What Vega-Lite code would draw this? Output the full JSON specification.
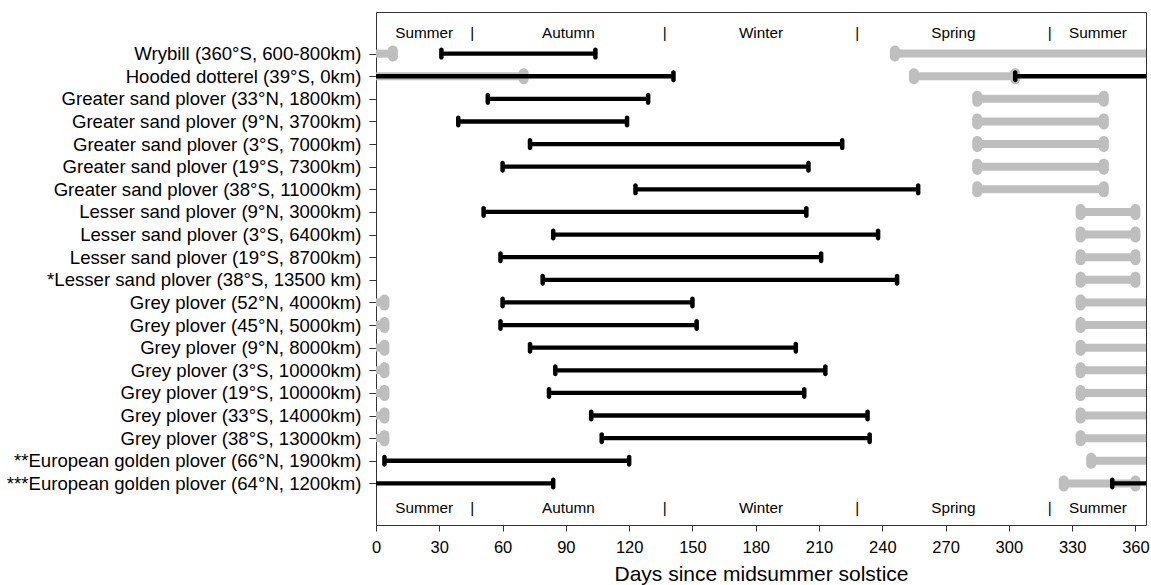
{
  "$schema": "https://vega.github.io/schema/vega-lite/v6.json",
  "width": 770,
  "height": 513,
  "autosize": {"type": "none"},
  "padding": {"left": 376, "top": 12, "right": 5, "bottom": 60},
  "config": {
    "font": "Liberation Sans",
    "view": {"stroke": "#333333", "strokeWidth": 1}
  },
  "datasets": {
    "bars": [
      {"row": "Wrybill (360°S, 600-800km)", "period": "non-breeding", "start": 31, "end": 104},
      {"row": "Wrybill (360°S, 600-800km)", "period": "breeding", "start": 0, "end": 8},
      {"row": "Wrybill (360°S, 600-800km)", "period": "breeding", "start": 246, "end": 365},
      {"row": "Hooded dotterel (39°S, 0km)", "period": "non-breeding", "start": 0, "end": 141},
      {"row": "Hooded dotterel (39°S, 0km)", "period": "breeding", "start": 0, "end": 70},
      {"row": "Hooded dotterel (39°S, 0km)", "period": "breeding", "start": 255, "end": 303},
      {"row": "Hooded dotterel (39°S, 0km)", "period": "non-breeding", "start": 303, "end": 365},
      {"row": "Greater sand plover (33°N, 1800km)", "period": "non-breeding", "start": 53, "end": 129},
      {"row": "Greater sand plover (33°N, 1800km)", "period": "breeding", "start": 285, "end": 345},
      {"row": "Greater sand plover (9°N, 3700km)", "period": "non-breeding", "start": 39, "end": 119},
      {"row": "Greater sand plover (9°N, 3700km)", "period": "breeding", "start": 285, "end": 345},
      {"row": "Greater sand plover (3°S, 7000km)", "period": "non-breeding", "start": 73, "end": 221},
      {"row": "Greater sand plover (3°S, 7000km)", "period": "breeding", "start": 285, "end": 345},
      {"row": "Greater sand plover (19°S, 7300km)", "period": "non-breeding", "start": 60, "end": 205},
      {"row": "Greater sand plover (19°S, 7300km)", "period": "breeding", "start": 285, "end": 345},
      {"row": "Greater sand plover (38°S, 11000km)", "period": "non-breeding", "start": 123, "end": 257},
      {"row": "Greater sand plover (38°S, 11000km)", "period": "breeding", "start": 285, "end": 345},
      {"row": "Lesser sand plover (9°N, 3000km)", "period": "non-breeding", "start": 51, "end": 204},
      {"row": "Lesser sand plover (9°N, 3000km)", "period": "breeding", "start": 334, "end": 360},
      {"row": "Lesser sand plover (3°S, 6400km)", "period": "non-breeding", "start": 84, "end": 238},
      {"row": "Lesser sand plover (3°S, 6400km)", "period": "breeding", "start": 334, "end": 360},
      {"row": "Lesser sand plover (19°S, 8700km)", "period": "non-breeding", "start": 59, "end": 211},
      {"row": "Lesser sand plover (19°S, 8700km)", "period": "breeding", "start": 334, "end": 360},
      {"row": "*Lesser sand plover (38°S, 13500 km)", "period": "non-breeding", "start": 79, "end": 247},
      {"row": "*Lesser sand plover (38°S, 13500 km)", "period": "breeding", "start": 334, "end": 360},
      {"row": "Grey plover (52°N, 4000km)", "period": "non-breeding", "start": 60, "end": 150},
      {"row": "Grey plover (52°N, 4000km)", "period": "breeding", "start": 0, "end": 4},
      {"row": "Grey plover (52°N, 4000km)", "period": "breeding", "start": 334, "end": 365},
      {"row": "Grey plover (45°N, 5000km)", "period": "non-breeding", "start": 59, "end": 152},
      {"row": "Grey plover (45°N, 5000km)", "period": "breeding", "start": 0, "end": 4},
      {"row": "Grey plover (45°N, 5000km)", "period": "breeding", "start": 334, "end": 365},
      {"row": "Grey plover (9°N, 8000km)", "period": "non-breeding", "start": 73, "end": 199},
      {"row": "Grey plover (9°N, 8000km)", "period": "breeding", "start": 0, "end": 4},
      {"row": "Grey plover (9°N, 8000km)", "period": "breeding", "start": 334, "end": 365},
      {"row": "Grey plover (3°S, 10000km)", "period": "non-breeding", "start": 85, "end": 213},
      {"row": "Grey plover (3°S, 10000km)", "period": "breeding", "start": 0, "end": 4},
      {"row": "Grey plover (3°S, 10000km)", "period": "breeding", "start": 334, "end": 365},
      {"row": "Grey plover (19°S, 10000km)", "period": "non-breeding", "start": 82, "end": 203},
      {"row": "Grey plover (19°S, 10000km)", "period": "breeding", "start": 0, "end": 4},
      {"row": "Grey plover (19°S, 10000km)", "period": "breeding", "start": 334, "end": 365},
      {"row": "Grey plover (33°S, 14000km)", "period": "non-breeding", "start": 102, "end": 233},
      {"row": "Grey plover (33°S, 14000km)", "period": "breeding", "start": 0, "end": 4},
      {"row": "Grey plover (33°S, 14000km)", "period": "breeding", "start": 334, "end": 365},
      {"row": "Grey plover (38°S, 13000km)", "period": "non-breeding", "start": 107, "end": 234},
      {"row": "Grey plover (38°S, 13000km)", "period": "breeding", "start": 0, "end": 4},
      {"row": "Grey plover (38°S, 13000km)", "period": "breeding", "start": 334, "end": 365},
      {"row": "**European golden plover (66°N, 1900km)", "period": "non-breeding", "start": 4, "end": 120},
      {"row": "**European golden plover (66°N, 1900km)", "period": "breeding", "start": 339, "end": 365},
      {"row": "***European golden plover (64°N, 1200km)", "period": "non-breeding", "start": 0, "end": 84},
      {"row": "***European golden plover (64°N, 1200km)", "period": "breeding", "start": 326, "end": 360},
      {"row": "***European golden plover (64°N, 1200km)", "period": "non-breeding", "start": 349, "end": 365}
    ],
    "seasons": [
      {"row": "seasonTop", "day": 22.8, "label": "Summer"},
      {"row": "seasonTop", "day": 45.6, "label": "|"},
      {"row": "seasonTop", "day": 91.2, "label": "Autumn"},
      {"row": "seasonTop", "day": 136.9, "label": "|"},
      {"row": "seasonTop", "day": 182.5, "label": "Winter"},
      {"row": "seasonTop", "day": 228.1, "label": "|"},
      {"row": "seasonTop", "day": 273.7, "label": "Spring"},
      {"row": "seasonTop", "day": 319.4, "label": "|"},
      {"row": "seasonTop", "day": 342.2, "label": "Summer"},
      {"row": "seasonBottom", "day": 22.8, "label": "Summer"},
      {"row": "seasonBottom", "day": 45.6, "label": "|"},
      {"row": "seasonBottom", "day": 91.2, "label": "Autumn"},
      {"row": "seasonBottom", "day": 136.9, "label": "|"},
      {"row": "seasonBottom", "day": 182.5, "label": "Winter"},
      {"row": "seasonBottom", "day": 228.1, "label": "|"},
      {"row": "seasonBottom", "day": 273.7, "label": "Spring"},
      {"row": "seasonBottom", "day": 319.4, "label": "|"},
      {"row": "seasonBottom", "day": 342.2, "label": "Summer"}
    ]
  },
  "encoding": {
    "y": {
      "field": "row",
      "type": "nominal",
      "scale": {
        "type": "point",
        "padding": 0.84,
        "domain": [
          "seasonTop",
          "Wrybill (360°S, 600-800km)",
          "Hooded dotterel (39°S, 0km)",
          "Greater sand plover (33°N, 1800km)",
          "Greater sand plover (9°N, 3700km)",
          "Greater sand plover (3°S, 7000km)",
          "Greater sand plover (19°S, 7300km)",
          "Greater sand plover (38°S, 11000km)",
          "Lesser sand plover (9°N, 3000km)",
          "Lesser sand plover (3°S, 6400km)",
          "Lesser sand plover (19°S, 8700km)",
          "*Lesser sand plover (38°S, 13500 km)",
          "Grey plover (52°N, 4000km)",
          "Grey plover (45°N, 5000km)",
          "Grey plover (9°N, 8000km)",
          "Grey plover (3°S, 10000km)",
          "Grey plover (19°S, 10000km)",
          "Grey plover (33°S, 14000km)",
          "Grey plover (38°S, 13000km)",
          "**European golden plover (66°N, 1900km)",
          "***European golden plover (64°N, 1200km)",
          "seasonBottom"
        ]
      },
      "axis": {
        "title": null,
        "domain": false,
        "grid": false,
        "values": [
          "Wrybill (360°S, 600-800km)",
          "Hooded dotterel (39°S, 0km)",
          "Greater sand plover (33°N, 1800km)",
          "Greater sand plover (9°N, 3700km)",
          "Greater sand plover (3°S, 7000km)",
          "Greater sand plover (19°S, 7300km)",
          "Greater sand plover (38°S, 11000km)",
          "Lesser sand plover (9°N, 3000km)",
          "Lesser sand plover (3°S, 6400km)",
          "Lesser sand plover (19°S, 8700km)",
          "*Lesser sand plover (38°S, 13500 km)",
          "Grey plover (52°N, 4000km)",
          "Grey plover (45°N, 5000km)",
          "Grey plover (9°N, 8000km)",
          "Grey plover (3°S, 10000km)",
          "Grey plover (19°S, 10000km)",
          "Grey plover (33°S, 14000km)",
          "Grey plover (38°S, 13000km)",
          "**European golden plover (66°N, 1900km)",
          "***European golden plover (64°N, 1200km)"
        ],
        "labelFontSize": 18.6,
        "labelColor": "#000000",
        "labelLimit": 400,
        "labelPadding": 8,
        "tickSize": 7,
        "tickColor": "#333333"
      }
    }
  },
  "layer": [
    {
      "data": {"name": "bars"},
      "transform": [{"filter": "datum.period === 'breeding'"}],
      "mark": {"type": "rule", "color": "#BEBEBE", "strokeWidth": 8, "strokeCap": "butt"},
      "encoding": {
        "x": {
          "field": "start",
          "type": "quantitative",
          "scale": {"domain": [0, 365], "nice": false, "zero": false},
          "axis": {
            "title": "Days since midsummer solstice",
            "titleFontSize": 21,
            "titleFontWeight": "normal",
            "titleColor": "#000000",
            "titlePadding": 8,
            "values": [0, 30, 60, 90, 120, 150, 180, 210, 240, 270, 300, 330, 360],
            "domain": false,
            "grid": false,
            "labelFontSize": 16.5,
            "labelColor": "#000000",
            "labelPadding": 8,
            "labelFlush": false,
            "tickSize": 6,
            "tickColor": "#333333"
          }
        },
        "x2": {"field": "end"}
      }
    },
    {
      "data": {"name": "bars"},
      "transform": [
        {"filter": "datum.period === 'breeding'"},
        {"fold": ["start", "end"], "as": ["edge", "day"]},
        {"filter": "datum.day > 0 && datum.day < 365"}
      ],
      "mark": {"type": "tick", "color": "#BEBEBE", "thickness": 10, "size": 16, "cornerRadius": 5, "opacity": 1},
      "encoding": {"x": {"field": "day", "type": "quantitative"}}
    },
    {
      "data": {"name": "bars"},
      "transform": [{"filter": "datum.period === 'non-breeding'"}],
      "mark": {"type": "rule", "color": "#000000", "strokeWidth": 4.3, "strokeCap": "butt"},
      "encoding": {
        "x": {"field": "start", "type": "quantitative"},
        "x2": {"field": "end"}
      }
    },
    {
      "data": {"name": "bars"},
      "transform": [
        {"filter": "datum.period === 'non-breeding'"},
        {"fold": ["start", "end"], "as": ["edge", "day"]},
        {"filter": "datum.day > 0 && datum.day < 365"}
      ],
      "mark": {"type": "tick", "color": "#000000", "thickness": 4.5, "size": 12, "cornerRadius": 2.2, "opacity": 1},
      "encoding": {"x": {"field": "day", "type": "quantitative"}}
    },
    {
      "data": {"name": "seasons"},
      "mark": {"type": "text", "fontSize": 15.3, "color": "#000000", "align": "center", "baseline": "middle", "dy": 2},
      "encoding": {
        "x": {"field": "day", "type": "quantitative"},
        "text": {"field": "label"}
      }
    }
  ]
}
